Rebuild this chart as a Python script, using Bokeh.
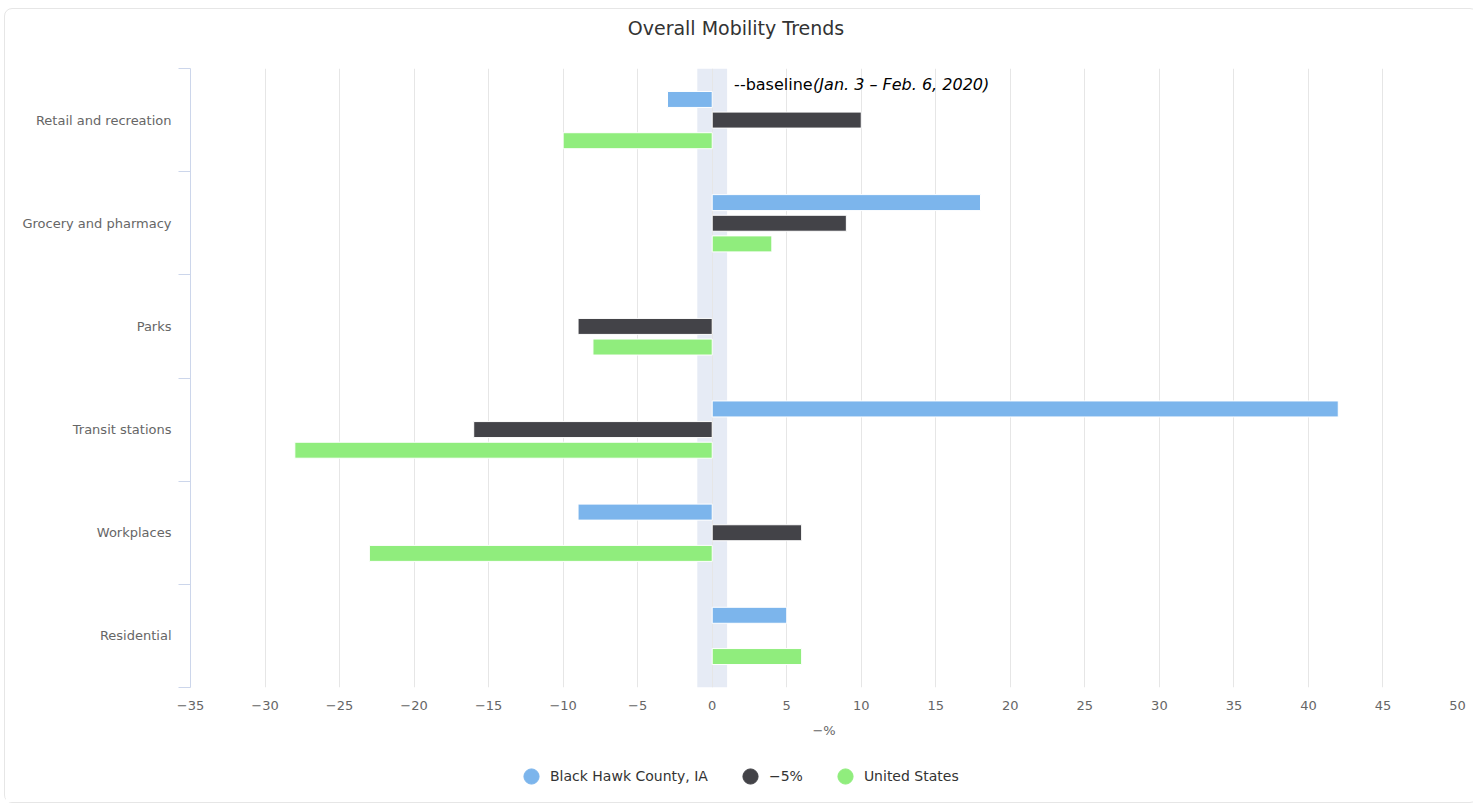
from bokeh.plotting import figure
from bokeh.layouts import column
from bokeh.models import (FixedTicker, BoxAnnotation, Label, Legend, LegendItem,
                          Range1d, ColumnDataSource, Div)
from bokeh.embed import file_html
from bokeh.resources import INLINE

nan = float("nan")

categories = ["Retail and recreation", "Grocery and pharmacy", "Parks",
              "Transit stations", "Workplaces", "Residential"]
series_names = ["Black Hawk County, IA", "\u22125%", "United States"]
black_hawk = [-3, 18, nan, 42, -9, 5]
minus5 = [10, 9, -9, -16, 6, nan]
united_states = [-10, 4, -8, -28, -23, 6]
x_ticks = [-35, -30, -25, -20, -15, -10, -5, 0, 5, 10, 15, 20, 25, 30, 35, 40, 45, 50]
baseline_low, baseline_high = -1, 1
title_text = "Overall Mobility Trends"
axis_title = "\u2212%"
baseline_text = "--baseline"
baseline_period = "(Jan. 3 \u2013 Feb. 6, 2020)"

colors = ["#7cb5ec", "#434348", "#90ed7d"]
FONT = "DejaVu Sans"
W = 1462

n = len(categories)
centers = [n - 0.5 - i for i in range(n)]
boundaries = [float(i) for i in range(n + 1)]

title_div = Div(text=title_text, width=W, height=49,
                styles={"font-family": FONT, "font-size": "19px", "color": "#333333",
                        "text-align": "center", "line-height": "28px",
                        "text-indent": "-10px", "justify-content": "center"})

p = figure(width=W, height=682, output_backend="svg", toolbar_location=None,
           x_range=Range1d(x_ticks[0], x_ticks[-1]), y_range=Range1d(0, n),
           min_border_left=185, min_border_right=10, min_border_top=0,
           min_border_bottom=63)
p.outline_line_color = None
p.background_fill_color = "white"

# plot band (drawn beneath the grid lines)
band = BoxAnnotation(left=baseline_low, right=baseline_high, fill_color="#e6ebf5",
                     fill_alpha=1.0, line_color=None, level="underlay")
p.center = [band] + list(p.center)

offsets = [0.2, 0.0, -0.2]
for vals, off, col in zip([black_hawk, minus5, united_states], offsets, colors):
    src = ColumnDataSource(dict(y=[c + off for c in centers], right=vals, left=[0] * n))
    p.hbar(y="y", left="left", right="right", height=0.155, source=src,
           fill_color=col, line_color="white", line_width=1)

# x axis
p.xaxis.ticker = FixedTicker(ticks=x_ticks)
p.xaxis.major_label_overrides = {t: ("\u2212" + str(abs(t)) if t < 0 else str(t)) for t in x_ticks}
p.xaxis.axis_line_color = None
p.xaxis.major_tick_line_color = None
p.xaxis.minor_tick_line_color = None
p.xaxis.major_tick_out = 0
p.xaxis.major_label_standoff = 13
p.xaxis.major_label_text_font = FONT
p.xaxis.major_label_text_font_size = "13px"
p.xaxis.major_label_text_color = "#666666"
p.xaxis.axis_label = axis_title
p.xaxis.axis_label_text_font = FONT
p.xaxis.axis_label_text_font_size = "13px"
p.xaxis.axis_label_text_font_style = "normal"
p.xaxis.axis_label_text_color = "#666666"
p.xaxis.axis_label_standoff = 10

p.xgrid.ticker = FixedTicker(ticks=x_ticks)
p.xgrid.grid_line_color = "#e6e6e6"
p.ygrid.grid_line_color = None

# y axis
p.yaxis.ticker = FixedTicker(ticks=centers, minor_ticks=boundaries)
p.yaxis.major_label_overrides = {c: name for c, name in zip(centers, categories)}
p.yaxis.axis_line_color = "#ccd6eb"
p.yaxis.major_tick_line_color = None
p.yaxis.major_tick_out = 12
p.yaxis.major_tick_in = 0
p.yaxis.minor_tick_line_color = "#ccd6eb"
p.yaxis.minor_tick_out = 12
p.yaxis.minor_tick_in = 0
p.yaxis.major_label_standoff = 7
p.yaxis.major_label_text_font = FONT
p.yaxis.major_label_text_font_size = "13px"
p.yaxis.major_label_text_color = "#666666"

# baseline label
lab1 = Label(x=baseline_high, y=n, x_offset=7, y_offset=-16, text=baseline_text,
             text_font=FONT, text_font_size="16px", text_color="black",
             text_align="left", text_baseline="middle")
lab2 = Label(x=baseline_high, y=n, x_offset=86, y_offset=-16, text=baseline_period,
             text_font=FONT, text_font_size="16px", text_color="black",
             text_font_style="italic", text_align="left", text_baseline="middle")
p.add_layout(lab1)
p.add_layout(lab2)

# legend figure
lf = figure(width=W, height=52, output_backend="svg", toolbar_location=None,
            x_axis_type=None, y_axis_type=None, min_border=0,
            x_range=Range1d(0, 1), y_range=Range1d(0, 1))
lf.outline_line_color = None
lf.xgrid.grid_line_color = None
lf.ygrid.grid_line_color = None
legend_items = []
for name, col in zip(series_names, colors):
    proxy = ColumnDataSource(dict(x=[nan], y=[nan]))
    dummy = lf.scatter(x="x", y="y", source=proxy, marker="circle", size=15,
                       fill_color=col, line_color=col)
    legend_items.append(LegendItem(label=name, renderers=[dummy]))
legend = Legend(items=legend_items, orientation="horizontal", location=(322, 7),
                label_text_font=FONT, label_text_font_size="14px",
                label_text_color="#333333", border_line_color=None,
                background_fill_alpha=0, spacing=23, glyph_width=38, glyph_height=38,
                label_standoff=0, padding=0, margin=0)
lf.add_layout(legend, "center")

layout = column(title_div, p, lf, spacing=0,
                styles={"border": "1px solid #e6e6e6", "border-radius": "8px",
                        "margin-top": "8px", "margin-left": "4px"})

open("out.html", "w").write(file_html(layout, INLINE))
